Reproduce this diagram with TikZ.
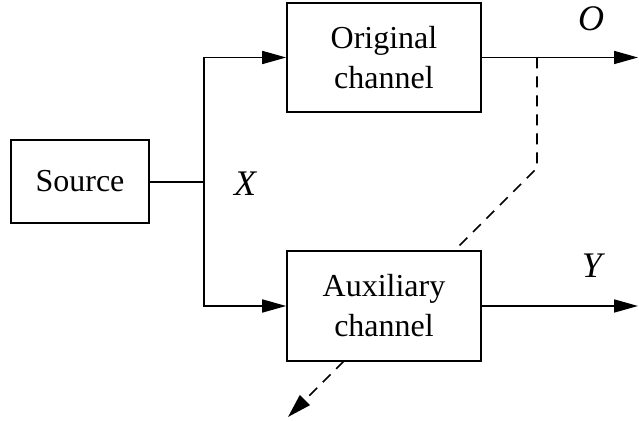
\documentclass[tikz,border=0pt]{standalone}
\usepackage{fontspec}
\setmainfont{Liberation Serif}
\usetikzlibrary{arrows.meta}
\begin{document}
\begin{tikzpicture}[x=0.5pt,y=-0.5pt,
  font=\fontsize{16}{20}\selectfont,
  boxnode/.style={draw,line width=0.8pt,fill=white,align=center,inner sep=0pt},
  conn/.style={line width=0.85pt},
  arr/.style={conn,-{Triangle[length=12pt,width=6.5pt]}},
  dline/.style={conn,dash pattern=on 5.5pt off 4pt},
  lab/.style={inner sep=0pt,font=\fontsize{18}{22}\selectfont\itshape}]
\useasboundingbox (0,0) rectangle (639,421);
\node[boxnode,minimum width=69pt,minimum height=41.5pt] (src) at (80,181.5) {Source};
\node[boxnode,minimum width=97pt,minimum height=54.5pt] (orig) at (384,57.5) {Original\\channel};
\node[boxnode,minimum width=97pt,minimum height=55pt] (aux) at (384,306) {Auxiliary\\channel};
\coordinate (j) at (204,182);
\coordinate (outO) at (638,57.5);
\coordinate (outY) at (638,306);
\coordinate (tap) at (537,57.5);
\coordinate (bend) at (537,168);
\coordinate (hitN) at (454,251);
\coordinate (hitS) at (344,361);
\coordinate (tip) at (288,417);
\draw[conn] (j -| src.east) -- (j);
\draw[arr] (j) |- (orig.west);
\draw[arr] (j) |- (aux.west);
\draw[arr] (orig.east) -- (outO);
\draw[arr] (aux.east) -- (outY);
\draw[dline] (tap) -- (bend) -- (hitN);
\draw[dline,-{Triangle[length=12pt,width=7pt]}] (hitS) -- (tip);
\node[lab] (O) at (591,19) {O};
\node[lab] (Y) at (592,266) {Y};
\node[lab] (X) at (245,184) {X};
\end{tikzpicture}
\end{document}
